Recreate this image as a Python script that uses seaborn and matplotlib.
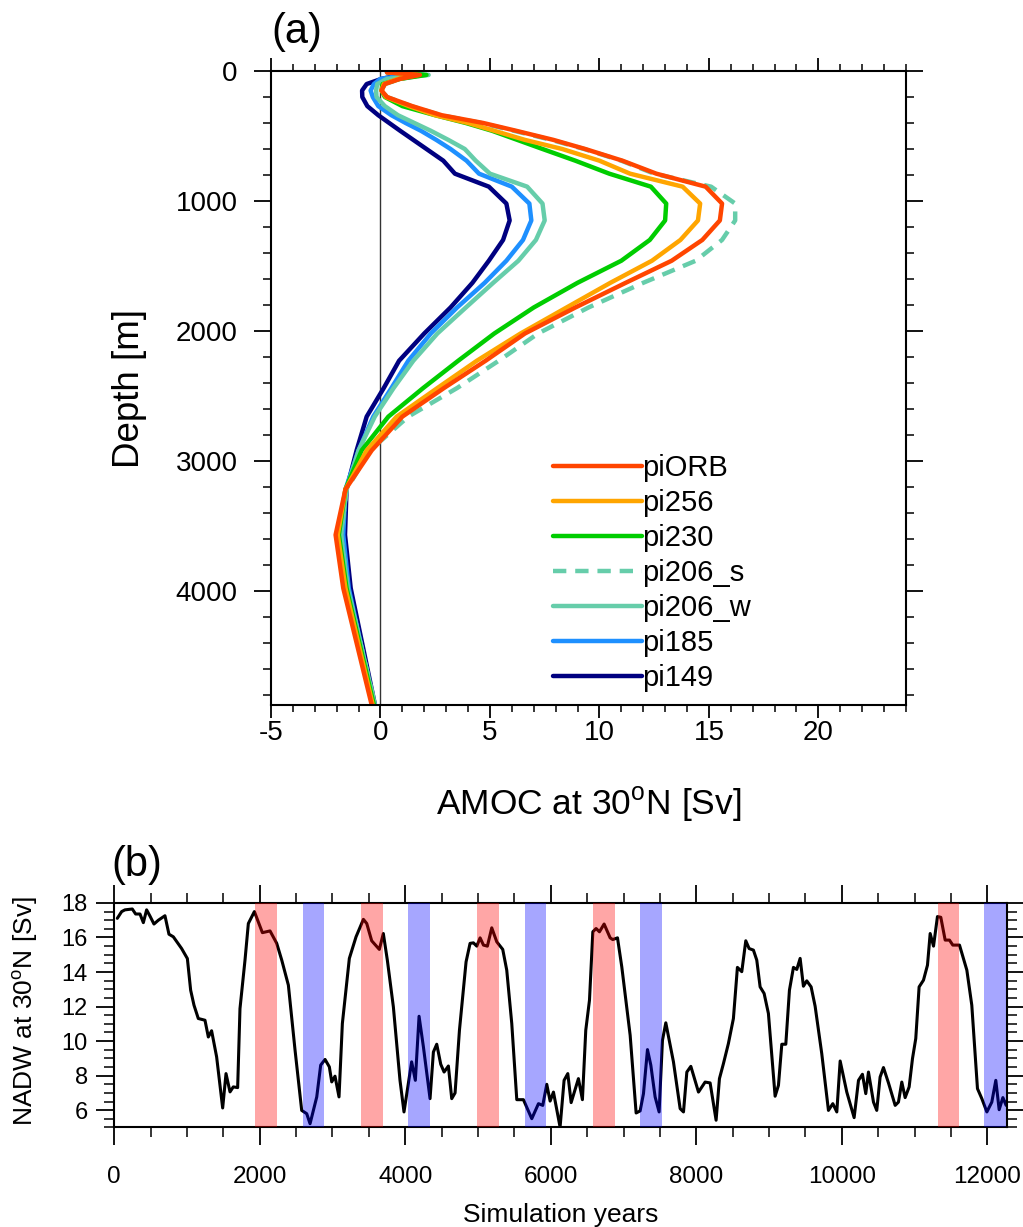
import numpy as np
import pandas as pd
import matplotlib
matplotlib.use("Agg")
import matplotlib.pyplot as plt
from matplotlib.ticker import MultipleLocator
import seaborn as sns

# ---- panel (a): AMOC profiles at 30N ----
depth = [10, 30, 60, 100, 150, 200, 270, 340, 400, 460, 530, 600, 690, 790, 890,
         1020, 1150, 1300, 1460, 1630, 1820, 2020, 2230, 2440, 2660, 2920, 3220,
         3570, 3980, 4880]

pi_orb = [0.3, 1.8, 0.9, 0.2, 0.05, 0.3, 1.45, 2.8, 4.7, 6.2, 7.9, 9.35, 11.05, 12.6, 14.85,
          15.6, 15.5, 14.7, 13.3, 11.2, 8.9, 6.6, 4.8, 2.9, 1.0, -0.4, -1.6,
          -2.05, -1.7, -0.4]
pi256 = [0.3, 1.7, 0.8, 0.15, 0.05, 0.25, 1.3, 2.5, 4.0, 5.2, 6.6, 8.3, 10.0, 11.4, 13.8,
         14.6, 14.5, 13.7, 12.4, 10.5, 8.5, 6.4, 4.4, 2.6, 0.74, -0.63, -1.6,
         -1.95, -1.6, -0.35]
pi230 = [0.35, 2.1, 0.9, 0.1, 0.05, 0.2, 1.0, 2.5, 3.9, 5.1, 6.25, 7.4, 8.9, 10.45, 12.35,
         13.05, 13.0, 12.3, 11.0, 9.0, 7.0, 5.2, 3.55, 1.95, 0.36, -0.86, -1.6,
         -1.9, -1.55, -0.3]
pi206_s = [0.35, 2.0, 0.9, 0.2, 0.05, 0.3, 1.4, 2.75, 4.6, 6.1, 7.8, 9.3, 11.0, 12.5, 15.1,
           16.2, 16.2, 15.6, 14.4, 12.0, 9.5, 7.2, 5.4, 3.5, 1.27, -0.48, -1.55,
           -1.8, -1.5, -0.25]
pi206_w = [0.3, 2.2, 0.3, -0.15, -0.2, -0.18, 0.2, 0.8, 1.55, 2.3, 3.1, 3.85, 4.35, 5.0, 6.7,
           7.4, 7.5, 7.1, 6.3, 5.15, 3.9, 2.6, 1.5, 0.6, -0.26, -1.0, -1.55,
           -1.8, -1.5, -0.25]
pi185 = [0.3, 1.2, 0.0, -0.3, -0.45, -0.35, -0.1, 0.5, 1.15, 1.85, 2.55, 3.2, 3.93, 4.5, 6.0,
         6.8, 6.89, 6.51, 5.75, 4.76, 3.5, 2.3, 1.27, 0.5, -0.33, -1.0, -1.6,
         -1.7, -1.45, -0.3]
pi149 = [0.3, 0.9, 0.05, -0.63, -0.84, -0.83, -0.6, -0.1, 0.4, 0.9, 1.5, 2.1, 2.87, 3.4, 4.95,
         5.75, 5.9, 5.6, 4.95, 4.2, 3.2, 2.0, 0.85, 0.15, -0.63, -1.09, -1.55,
         -1.62, -1.36, -0.25]

runs = ["piORB", "pi256", "pi230", "pi206_s", "pi206_w", "pi185", "pi149"]
run_colors = {"piORB": "#FF4500", "pi256": "#FFA500", "pi230": "#00CD00",
              "pi206_s": "#66CDAA", "pi206_w": "#66CDAA", "pi185": "#1E90FF",
              "pi149": "#000080"}

# ---- panel (b): NADW time series ----
years = [43, 103, 148, 249, 295, 355, 401, 446, 492, 547, 607, 698, 753, 813, 927,
         1006, 1051, 1097, 1156, 1248, 1294, 1339, 1408, 1491, 1537, 1592, 1637, 1697,
         1729, 1798, 1844, 1927, 2037, 2142, 2234, 2303, 2394, 2486, 2577, 2646, 2692,
         2784, 2838, 2898, 2957, 2990, 3035, 3090, 3136, 3232, 3324, 3425, 3471, 3539,
         3644, 3699, 3754, 3837, 3928, 3983, 4088, 4139, 4190, 4250, 4341, 4387, 4433,
         4488, 4534, 4593, 4639, 4685, 4745, 4790, 4836, 4891, 4937, 4983, 5029, 5075,
         5129, 5189, 5258, 5340, 5395, 5464, 5533, 5624, 5739, 5831, 5890, 5945, 5991,
         6037, 6128, 6183, 6234, 6280, 6380, 6435, 6481, 6532, 6578, 6623, 6669, 6733,
         6816, 6852, 6917, 6976, 7091, 7173, 7228, 7274, 7329, 7375, 7434, 7489, 7535,
         7581, 7686, 7778, 7824, 7870, 7925, 8030, 8121, 8190, 8272, 8318, 8373, 8441,
         8510, 8565, 8625, 8680, 8726, 8785, 8831, 8877, 8932, 8991, 9083, 9129, 9175,
         9230, 9280, 9335, 9381, 9427, 9472, 9518, 9578, 9633, 9724, 9816, 9876, 9931,
         9977, 10068, 10169, 10229, 10283, 10329, 10366, 10435, 10480, 10526, 10572,
         10641, 10733, 10778, 10824, 10870, 10925, 10971, 11016, 11062, 11122, 11177,
         11214, 11260, 11314, 11360, 11420, 11479, 11525, 11617, 11718, 11786, 11864,
         11924, 11993, 12061, 12116, 12162, 12213, 12258, 12276]
nadw = [17.11, 17.5, 17.6, 17.65, 17.36, 17.36, 16.86, 17.6, 17.24, 16.78, 17.0, 17.26,
        16.19, 16.04, 15.36, 14.78, 12.95, 12.08, 11.31, 11.21, 10.24, 10.6, 9.09, 6.13,
        8.12, 7.06, 7.35, 7.31, 11.88, 14.69, 16.81, 17.5, 16.28, 16.38, 15.66, 14.69,
        13.24, 9.47, 5.99, 5.8, 5.22, 6.77, 8.61, 8.94, 8.51, 7.64, 7.97, 6.77, 11.02,
        14.79, 16.04, 17.05, 16.81, 15.81, 15.31, 16.23, 14.69, 11.98, 7.73, 5.9, 8.8,
        7.73, 11.44, 9.66, 6.67, 9.37, 9.82, 8.66, 8.21, 8.56, 6.67, 7.0, 10.63, 12.56,
        14.59, 15.66, 15.69, 15.5, 15.98, 15.56, 15.5, 16.56, 15.75, 15.31, 14.11, 11.02,
        6.61, 6.61, 5.51, 6.38, 6.28, 7.5, 6.53, 7.05, 5.02, 7.73, 8.12, 6.44, 7.83, 6.61,
        10.63, 12.37, 16.33, 16.52, 16.33, 16.78, 15.98, 15.88, 15.98, 14.3, 10.34, 5.84,
        5.96, 6.96, 9.51, 8.61, 6.77, 5.9, 10.05, 11.06, 8.8, 6.09, 5.9, 8.21, 8.54, 7.05,
        7.63, 7.58, 5.42, 7.83, 8.7, 9.86, 11.31, 14.27, 14.02, 15.81, 15.36, 15.27, 14.69,
        13.14, 12.76, 11.6, 6.81, 7.44, 9.82, 9.82, 12.95, 14.27, 14.15, 14.79, 13.18,
        13.49, 13.14, 12.02, 9.28, 5.99, 6.38, 5.9, 8.85, 7.05, 5.57, 7.73, 8.08, 6.96,
        8.21, 6.47, 5.99, 7.92, 8.47, 7.58, 6.28, 6.47, 7.63, 6.73, 7.35, 8.99, 10.15,
        13.14, 13.53, 14.4, 16.23, 15.5, 17.21, 17.17, 15.85, 15.85, 15.56, 15.56, 14.11,
        12.08, 7.25, 6.67, 5.9, 6.47, 7.73, 6.03, 6.73, 6.28, 6.6]

warm_bands = [(1940, 2240), (3390, 3690), (4990, 5290), (6580, 6880), (11315, 11615)]
cold_bands = [(2590, 2890), (4035, 4335), (5640, 5940), (7230, 7530), (11960, 12260)]

sns.set_theme(style="white")
plt.rcParams["font.family"] = ["Liberation Sans", "DejaVu Sans"]
plt.rcParams["mathtext.fontset"] = "custom"
plt.rcParams["mathtext.rm"] = "Liberation Sans"
plt.rcParams["axes.unicode_minus"] = False
plt.rcParams["axes.edgecolor"] = "black"
plt.rcParams["axes.linewidth"] = 1.5
plt.rcParams["text.color"] = "black"
plt.rcParams["axes.labelcolor"] = "black"
plt.rcParams["xtick.color"] = "black"
plt.rcParams["ytick.color"] = "black"

fig = plt.figure(figsize=(10.23, 12.27), dpi=100)
ax1 = fig.add_axes([0.2649, 0.4254, 0.6207, 0.5167])
ax2 = fig.add_axes([0.1116, 0.0811, 0.8732, 0.1830])

# panel (a)
profiles = pd.DataFrame({
    "depth": depth * len(runs),
    "amoc": pi_orb + pi256 + pi230 + pi206_s + pi206_w + pi185 + pi149,
    "run": np.repeat(runs, len(depth)),
})

ax1.axvline(0, color="#333333", lw=1.0, zorder=1)
for run in runs[::-1]:
    sub = profiles[profiles["run"] == run]
    ls = (0, (3, 2)) if run == "pi206_s" else "-"
    sns.lineplot(data=sub, x="amoc", y="depth", orient="y", sort=False,
                 estimator=None, color=run_colors[run], linewidth=3.2,
                 linestyle=ls, label=run, legend=False, ax=ax1)

ax1.set_xlim(-5, 24)
ax1.set_ylim(4880, 0)
ax1.xaxis.set_major_locator(MultipleLocator(5))
ax1.xaxis.set_minor_locator(MultipleLocator(1))
ax1.yaxis.set_major_locator(MultipleLocator(1000))
ax1.yaxis.set_minor_locator(MultipleLocator(200))
ax1.tick_params(which="both", direction="out", bottom=True, left=True,
                top=True, right=True, labeltop=False, labelright=False)
ax1.tick_params(which="major", length=12, width=1.3, labelsize=20)
ax1.tick_params(which="minor", length=6, width=1.1)
ax1.tick_params(axis="x", which="major", length=9.5, pad=1)
ax1.tick_params(axis="x", which="minor", length=5)
ax1.tick_params(axis="y", which="major", pad=12)
ax1.set_xlabel(r"AMOC at 30$^{\mathrm{o}}$N [Sv]", fontsize=25.5)
ax1.set_ylabel("Depth [m]", fontsize=26.5)
ax1.xaxis.set_label_coords(0.5, -0.125)
ax1.yaxis.set_label_coords(-0.195, 0.5)
ax1.text(0.0, 1.045, "(a)", transform=ax1.transAxes, fontsize=30,
         ha="left", va="baseline")

handles, labels = ax1.get_legend_handles_labels()
ax1.legend(handles[::-1], labels[::-1], loc="upper left",
           bbox_to_anchor=(0.444, 0.396), frameon=False, fontsize=21,
           handlelength=3.05, handletextpad=0.0, labelspacing=0.24,
           borderpad=0, borderaxespad=0)

# panel (b)
sns.lineplot(x=years, y=nadw, color="black", linewidth=2.2, ax=ax2)
for a, b in warm_bands:
    ax2.axvspan(a, b, color="red", alpha=0.35, lw=0, zorder=3)
for a, b in cold_bands:
    ax2.axvspan(a, b, color="blue", alpha=0.35, lw=0, zorder=3)

ax2.set_xlim(0, 12276)
ax2.set_ylim(5, 18)
ax2.xaxis.set_major_locator(MultipleLocator(2000))
ax2.xaxis.set_minor_locator(MultipleLocator(500))
ax2.yaxis.set_major_locator(MultipleLocator(2))
ax2.yaxis.set_minor_locator(MultipleLocator(0.5))
ax2.tick_params(which="both", direction="out", bottom=True, left=True,
                top=True, right=True, labeltop=False, labelright=False)
ax2.tick_params(which="major", length=13, width=1.3)
ax2.tick_params(which="minor", length=7, width=1.1)
ax2.tick_params(axis="x", which="major", labelsize=17.5, pad=15)
ax2.tick_params(axis="y", which="major", labelsize=17, pad=6)
ax2.set_xlabel("Simulation years", fontsize=19)
ax2.set_ylabel(r"NADW at 30$^{\mathrm{o}}$N [Sv]", fontsize=19)
ax2.xaxis.set_label_coords(0.5, -0.335)
ax2.yaxis.set_label_coords(-0.083, 0.52)
ax2.text(-0.003, 1.12, "(b)", transform=ax2.transAxes, fontsize=30,
         ha="left", va="baseline")

fig.savefig("out.png", dpi=100)
